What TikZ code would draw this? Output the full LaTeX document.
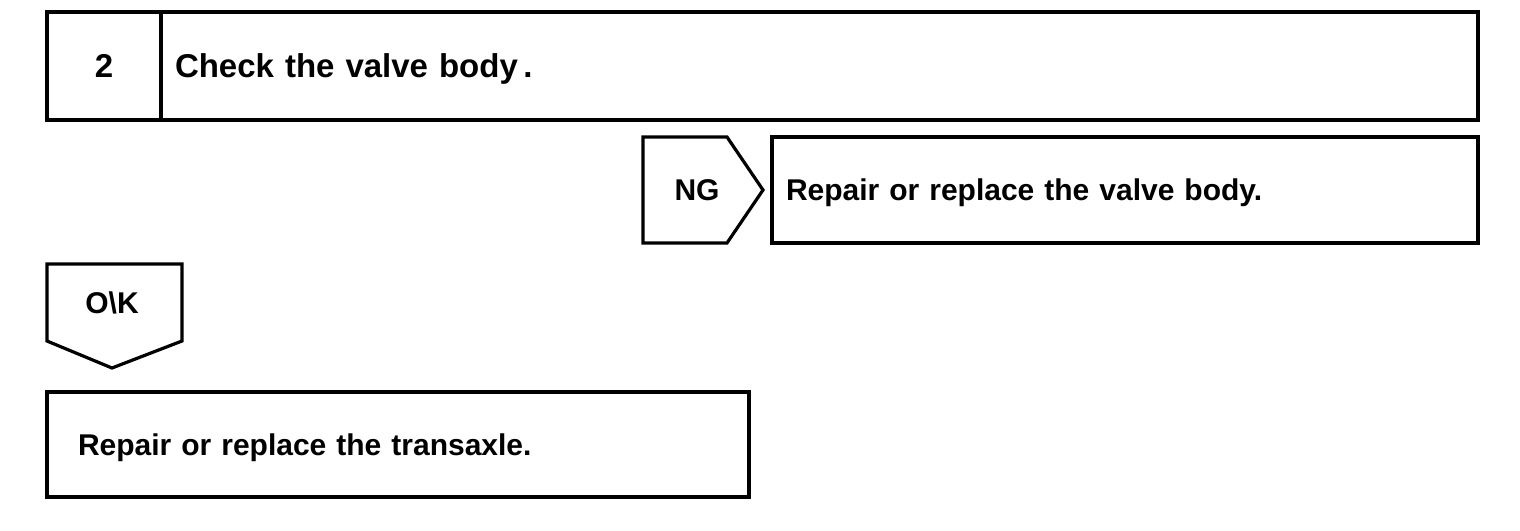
\documentclass[tikz,border=0pt]{standalone}
\usepackage{fontspec}
\setmainfont{Liberation Sans}

\begin{document}
\begin{tikzpicture}[x=0.5pt, y=-0.5pt, line width=1.6pt,
    every node/.style={font=\bfseries\fontsize{15}{18}\selectfont},
    stepbox/.style={draw, rectangle, align=left, inner ysep=0pt, text depth=0pt}]
  \useasboundingbox (0,0) rectangle (1520,530);

  % Step header
  \node[draw, minimum width=57pt, minimum height=54pt, font=\bfseries\fontsize{16.5}{20}\selectfont] (num) at (104,66) {2};
  \node[stepbox, minimum height=54pt, inner xsep=7pt, text width=644.5pt, font=\bfseries\fontsize{16.5}{20}\selectfont] (check) at (819.5,66) {Check the valve body\,.};

  % NG branch
  \draw (643,137) -- (727,137) -- (763,190) -- (727,243) -- (643,243) -- cycle;
  \node (ng) at (697,190) {NG};
  \node[stepbox, minimum height=53pt, inner xsep=7pt, text width=339pt] (valve) at (1125,190) {Repair or replace the valve body.};

  % OK branch
  \draw (47,264) -- (182,264) -- (182,341) -- (112,368) -- (47,341) -- cycle;
  \node (ok) at (112,303) {O\textbackslash K};
  \node[stepbox, minimum height=52.5pt, inner xsep=15.5pt, text width=320pt] (transaxle) at (398,444.5) {Repair or replace the transaxle.};
\end{tikzpicture}
\end{document}
